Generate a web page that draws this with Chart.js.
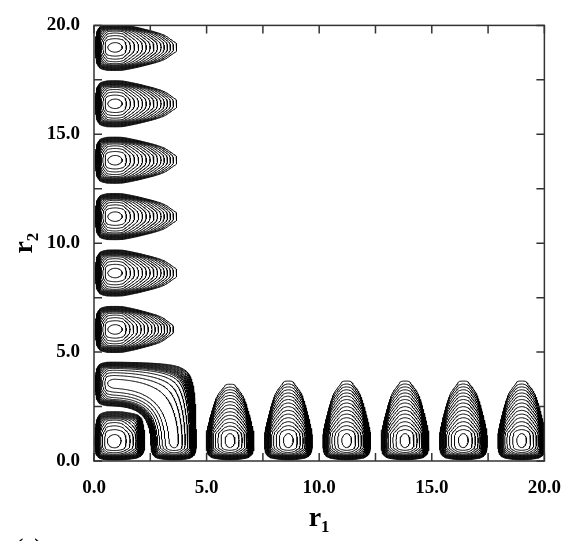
<!DOCTYPE html>
<html>
<head>
<meta charset="utf-8">
<title>contour</title>
<script src="https://cdn.jsdelivr.net/npm/chart.js@4.4.1/dist/chart.umd.min.js"></script>
<style>
html,body{margin:0;padding:0;background:#fff;}
#box{position:relative;width:577px;height:541px;}
</style>
</head>
<body>
<div id="box"><canvas id="chart" width="577" height="541"></canvas></div>
<script>
// ---------------- values ----------------
const tickValues = [0, 2.5, 5, 7.5, 10, 12.5, 15, 17.5, 20];
const tickLabels = ['0.0', '', '5.0', '', '10.0', '', '15.0', '', '20.0'];
const xTitle = 'r\u2081';
const yTitle = 'r\u2082';
const panelLabel = '(a)';

// contour levels (log scale, relative to each lobe maximum)
const contourLevels = [-0.32, -1.32, -2.32, -3.32, -4.32, -5.32, -6.32, -7.32, -8.32, -9.32, -10.32, -11.32, -12.32, -13.32, -14.32, -15.32];

// outer lobes (same positions along r1 for the bottom row and along r2 for the left column)
const lobeCenters = [6.04, 8.63, 11.22, 13.81, 16.40, 18.99];
const lobeReach = [3.53, 3.68, 3.68, 3.68, 3.68, 3.68];   // outermost contour, distance from axis
const lobeNodeHalfGap = 1.295;                             // centre to node between lobes
const lobePeakOffset = 0.95;                               // maximum, distance from axis
const lobeTaper = 0.45;                                    // narrowing of the lobes towards their far end
const taperCore = 0.3;

// where each contour level crosses, measured from a lobe maximum
const acrossCrossings = [0.22, 0.40, 0.54, 0.66, 0.75, 0.80, 0.835, 0.865, 0.89, 0.915, 0.94, 0.965, 0.99, 1.015, 1.04, 1.06];
const towardAxisCrossings = [0.34, 0.46, 0.56, 0.63, 0.67, 0.70, 0.72, 0.74, 0.76, 0.78, 0.80, 0.82, 0.84, 0.86, 0.88, 0.90];
const awayFractions = [0, 0.075, 0.15, 0.225, 0.30, 0.37, 0.44, 0.51, 0.58, 0.645, 0.71, 0.77, 0.83, 0.885, 0.94, 1];
const innerRingTop = 0.31;

// lobe at the origin
const cornerPeak = [0.93, 0.94];
const cornerSpread = 1.25;
const cornerNode = 2.43;

// bent (L-shaped) lobe
const bendInnerNode = 2.43;   // rounded-square node (exponent 4)
const bendRidge = 3.57;       // ridge curve (exponent 3)
const bendOuterNode = 4.75;   // rounded-square node (exponent 10)
const bendInnerScale = 0.98;
const bendOuterScale = 0.915;
const bendArmPeak = 0.94;     // arm ends: flat beyond this distance from axis

// ---------------- field reconstructed from the crossings ----------------
function monotoneInterp(xs, ys) {
  const n = xs.length, d = [], m = new Array(n);
  for (let i = 0; i < n - 1; i++) d.push((ys[i + 1] - ys[i]) / (xs[i + 1] - xs[i]));
  m[0] = 0; m[n - 1] = d[n - 2];
  for (let i = 1; i < n - 1; i++) {
    if (d[i - 1] * d[i] <= 0) m[i] = 0;
    else {
      const h0 = xs[i] - xs[i - 1], h1 = xs[i + 1] - xs[i];
      const w1 = 2 * h1 + h0, w2 = h1 + 2 * h0;
      m[i] = (w1 + w2) / (w1 / d[i - 1] + w2 / d[i]);
    }
  }
  return function (x) {
    if (x <= xs[0]) return ys[0];
    if (x >= xs[n - 1]) return ys[n - 1] + d[n - 2] * (x - xs[n - 1]);
    let k = 0;
    while (xs[k + 1] < x) k++;
    const hh = xs[k + 1] - xs[k], t = (x - xs[k]) / hh, t2 = t * t, t3 = t2 * t;
    return (2 * t3 - 3 * t2 + 1) * ys[k] + (t3 - 2 * t2 + t) * hh * m[k] +
           (-2 * t3 + 3 * t2) * ys[k + 1] + (t3 - t2) * hh * m[k + 1];
  };
}
const FLOOR = -200;
const lvY = [0, ...contourLevels, -40];
const across = monotoneInterp([0, ...acrossCrossings, 1.25], lvY);
const toward = monotoneInterp([0, ...towardAxisCrossings, 0.95], lvY);
const cornerOut = monotoneInterp([0, ...acrossCrossings.map(v => v * cornerSpread), 1.25 * cornerSpread], lvY);
const awayInterps = lobeReach.map(r => {
  const span = r - lobePeakOffset;
  const xs = awayFractions.map(f => innerRingTop + f * (span - innerRingTop));
  return monotoneInterp([0, ...xs, span + 0.15], lvY);
});

function outerLobe(along, away) {
  if (away <= 0) return FLOOR;
  let k = 0, best = 1e9;
  for (let i = 0; i < lobeCenters.length; i++) {
    const dd = Math.abs(along - lobeCenters[i]);
    if (dd < best) { best = dd; k = i; }
  }
  if (best >= lobeNodeHalfGap) return FLOOR;
  const du = away - lobePeakOffset;
  const span = lobeReach[k] - lobePeakOffset;
  const f = Math.min(1.1, Math.max(0, du) / span);
  const tau = 1 / (1 - lobeTaper * f * f) - 1;
  const w2 = best * best;
  const wEff = best * (1 + tau * w2 / (w2 + taperCore * taperCore));
  const P = across(wEff);
  const Q = du >= 0 ? awayInterps[k](du) : toward(-du);
  return Math.max(FLOOR, P + Q);
}
function cornerLobe(x, y) {
  const r4 = Math.pow(x ** 4 + y ** 4, 0.25);
  if (r4 >= cornerNode) return FLOOR;
  const dx = x - cornerPeak[0], dy = y - cornerPeak[1];
  const qx = dx >= 0 ? cornerOut(dx) : toward(-dx);
  const qy = dy >= 0 ? cornerOut(dy) : toward(-dy);
  return Math.max(FLOOR, qx + qy);
}
function bendLobe(x, y) {
  const r4 = Math.pow(x ** 4 + y ** 4, 0.25);
  const r10 = Math.pow(x ** 10 + y ** 10, 0.1);
  if (r4 <= bendInnerNode || r10 >= bendOuterNode) return FLOOR;
  const r3 = Math.cbrt(x ** 3 + y ** 3);
  let dd;
  if (r3 < bendRidge) {
    const a = bendRidge - r3, b = r4 - bendInnerNode;
    dd = a / (a + b) * (bendRidge - bendInnerNode) / bendInnerScale;
  } else {
    const a = r3 - bendRidge, b = bendOuterNode - r10;
    dd = a / (a + b) * (bendOuterNode - bendRidge) / bendOuterScale;
  }
  const R = across(dd);
  const ax = x >= bendArmPeak ? 0 : toward(bendArmPeak - x);
  const ay = y >= bendArmPeak ? 0 : toward(bendArmPeak - y);
  return Math.max(FLOOR, R + ax + ay);
}
function field(x, y) {
  if (x <= 0 || y <= 0) return FLOOR;
  let v = FLOOR;
  if (x < 5 && y < 5) v = Math.max(v, cornerLobe(x, y), bendLobe(x, y));
  if (x > 4.6 && y < 4.8) v = Math.max(v, outerLobe(x, y));
  if (y > 4.6 && x < 4.8) v = Math.max(v, outerLobe(y, x));
  return v;
}

// ---------------- contour tracing (marching squares) ----------------
const G0 = -0.05, GH = 0.035;
const GN = Math.ceil((20.6 - G0) / GH) + 1;
const F = new Float32Array(GN * GN);
for (let j = 0; j < GN; j++) for (let i = 0; i < GN; i++) F[j * GN + i] = field(G0 + i * GH, G0 + j * GH);

function traceLevel(L) {
  const nx = GN, ny = GN;
  const adj = new Map();
  const link = (a, b) => {
    let la = adj.get(a); if (!la) adj.set(a, la = []); la.push(b);
    let lb = adj.get(b); if (!lb) adj.set(b, lb = []); lb.push(a);
  };
  for (let j = 0; j < ny - 1; j++) for (let i = 0; i < nx - 1; i++) {
    const p = j * nx + i;
    const v0 = F[p], v1 = F[p + 1], v2 = F[p + nx + 1], v3 = F[p + nx];
    const c = (v0 > L ? 1 : 0) | (v1 > L ? 2 : 0) | (v2 > L ? 4 : 0) | (v3 > L ? 8 : 0);
    if (c === 0 || c === 15) continue;
    const e0 = 2 * p, e1 = 2 * (p + 1) + 1, e2 = 2 * (p + nx), e3 = 2 * p + 1;
    switch (c) {
      case 1: case 14: link(e3, e0); break;
      case 2: case 13: link(e0, e1); break;
      case 3: case 12: link(e3, e1); break;
      case 4: case 11: link(e1, e2); break;
      case 6: case 9: link(e0, e2); break;
      case 7: case 8: link(e2, e3); break;
      case 5: { const m = (v0 + v1 + v2 + v3) / 4; if (m > L) { link(e0, e1); link(e2, e3); } else { link(e3, e0); link(e1, e2); } break; }
      case 10: { const m = (v0 + v1 + v2 + v3) / 4; if (m > L) { link(e3, e0); link(e1, e2); } else { link(e0, e1); link(e2, e3); } break; }
    }
  }
  const pt = key => {
    const p = key >> 1, i = p % nx, j = (p - i) / nx;
    if ((key & 1) === 0) { const a = F[p], b = F[p + 1], t = (L - a) / (b - a); return { x: G0 + (i + t) * GH, y: G0 + j * GH }; }
    const a = F[p], b = F[p + nx], t = (L - a) / (b - a); return { x: G0 + i * GH, y: G0 + (j + t) * GH };
  };
  const visited = new Set(), lines = [];
  const walk = start => {
    const line = [pt(start)]; visited.add(start); let cur = start;
    while (true) {
      const nb = adj.get(cur); let next = -1;
      for (const n of nb) if (!visited.has(n)) { next = n; break; }
      if (next < 0) { if (nb.includes(start) && line.length > 2) line.push(line[0]); break; }
      visited.add(next); line.push(pt(next)); cur = next;
    }
    return line;
  };
  for (const [k, nb] of adj) if (nb.length === 1 && !visited.has(k)) lines.push(walk(k));
  for (const [k] of adj) if (!visited.has(k)) lines.push(walk(k));
  return lines;
}

const datasets = [];
for (const L of contourLevels) {
  for (const line of traceLevel(L)) {
    if (line.length < 2) continue;
    datasets.push({
      data: line, showLine: true, borderColor: '#000', borderWidth: 1,
      pointRadius: 0, pointHoverRadius: 0, pointHitRadius: 0, fill: false,
      tension: 0, clip: 0, parsing: false, normalized: true
    });
  }
}

// ---------------- chart ----------------
const serif = '"Liberation Serif", "Times New Roman", serif';
const labelFor = v => { const i = tickValues.indexOf(v); return i < 0 ? '' : tickLabels[i]; };

const framePlugin = {
  id: 'frame',
  afterDraw(chart) {
    const { ctx, chartArea: a, scales: { x, y } } = chart;
    ctx.save();
    ctx.strokeStyle = '#333';
    ctx.lineWidth = 1.5;
    ctx.strokeRect(a.left, a.top, a.right - a.left, a.bottom - a.top);
    ctx.beginPath();
    for (const v of tickValues) {
      const px = x.getPixelForValue(v);
      ctx.moveTo(px, a.bottom); ctx.lineTo(px, a.bottom - 8);
      ctx.moveTo(px, a.top); ctx.lineTo(px, a.top + 8);
      const py = y.getPixelForValue(v);
      ctx.moveTo(a.left, py); ctx.lineTo(a.left + 8, py);
      ctx.moveTo(a.right, py); ctx.lineTo(a.right - 8, py);
    }
    ctx.stroke();
    ctx.fillStyle = '#000';
    ctx.font = 'bold 22px ' + serif;
    ctx.textBaseline = 'alphabetic';
    ctx.fillText(panelLabel, 16, 553);
    ctx.restore();
  }
};

const tickFont = { family: serif, size: 19, weight: 'bold' };
const titleFont = { family: serif, size: 28, weight: 'bold' };

new Chart(document.getElementById('chart'), {
  type: 'scatter',
  data: { datasets },
  options: {
    responsive: false,
    animation: false,
    events: [],
    layout: { padding: { left: 0, right: 32, top: 12, bottom: 0 } },
    plugins: { legend: { display: false }, tooltip: { enabled: false } },
    scales: {
      x: {
        type: 'linear', min: 0, max: 20,
        afterBuildTicks: s => { s.ticks = tickValues.map(v => ({ value: v })); },
        afterFit: s => { s.height = 80; },
        grid: { display: false, drawTicks: false },
        border: { display: false },
        ticks: { callback: v => labelFor(v), autoSkip: false, maxRotation: 0, padding: 16, color: '#000', font: tickFont },
        title: { display: true, text: xTitle, color: '#000', font: titleFont, padding: { top: 0, bottom: 5 } }
      },
      y: {
        type: 'linear', min: 0, max: 20,
        afterBuildTicks: s => { s.ticks = tickValues.map(v => ({ value: v })); },
        afterFit: s => { s.width = 94; },
        grid: { display: false, drawTicks: false },
        border: { display: false },
        ticks: { callback: v => labelFor(v), autoSkip: false, padding: 14, color: '#000', font: tickFont },
        title: { display: true, text: yTitle, color: '#000', font: titleFont, padding: { top: 8, bottom: 0 } }
      }
    }
  },
  plugins: [framePlugin]
});
</script>
</body>
</html>
